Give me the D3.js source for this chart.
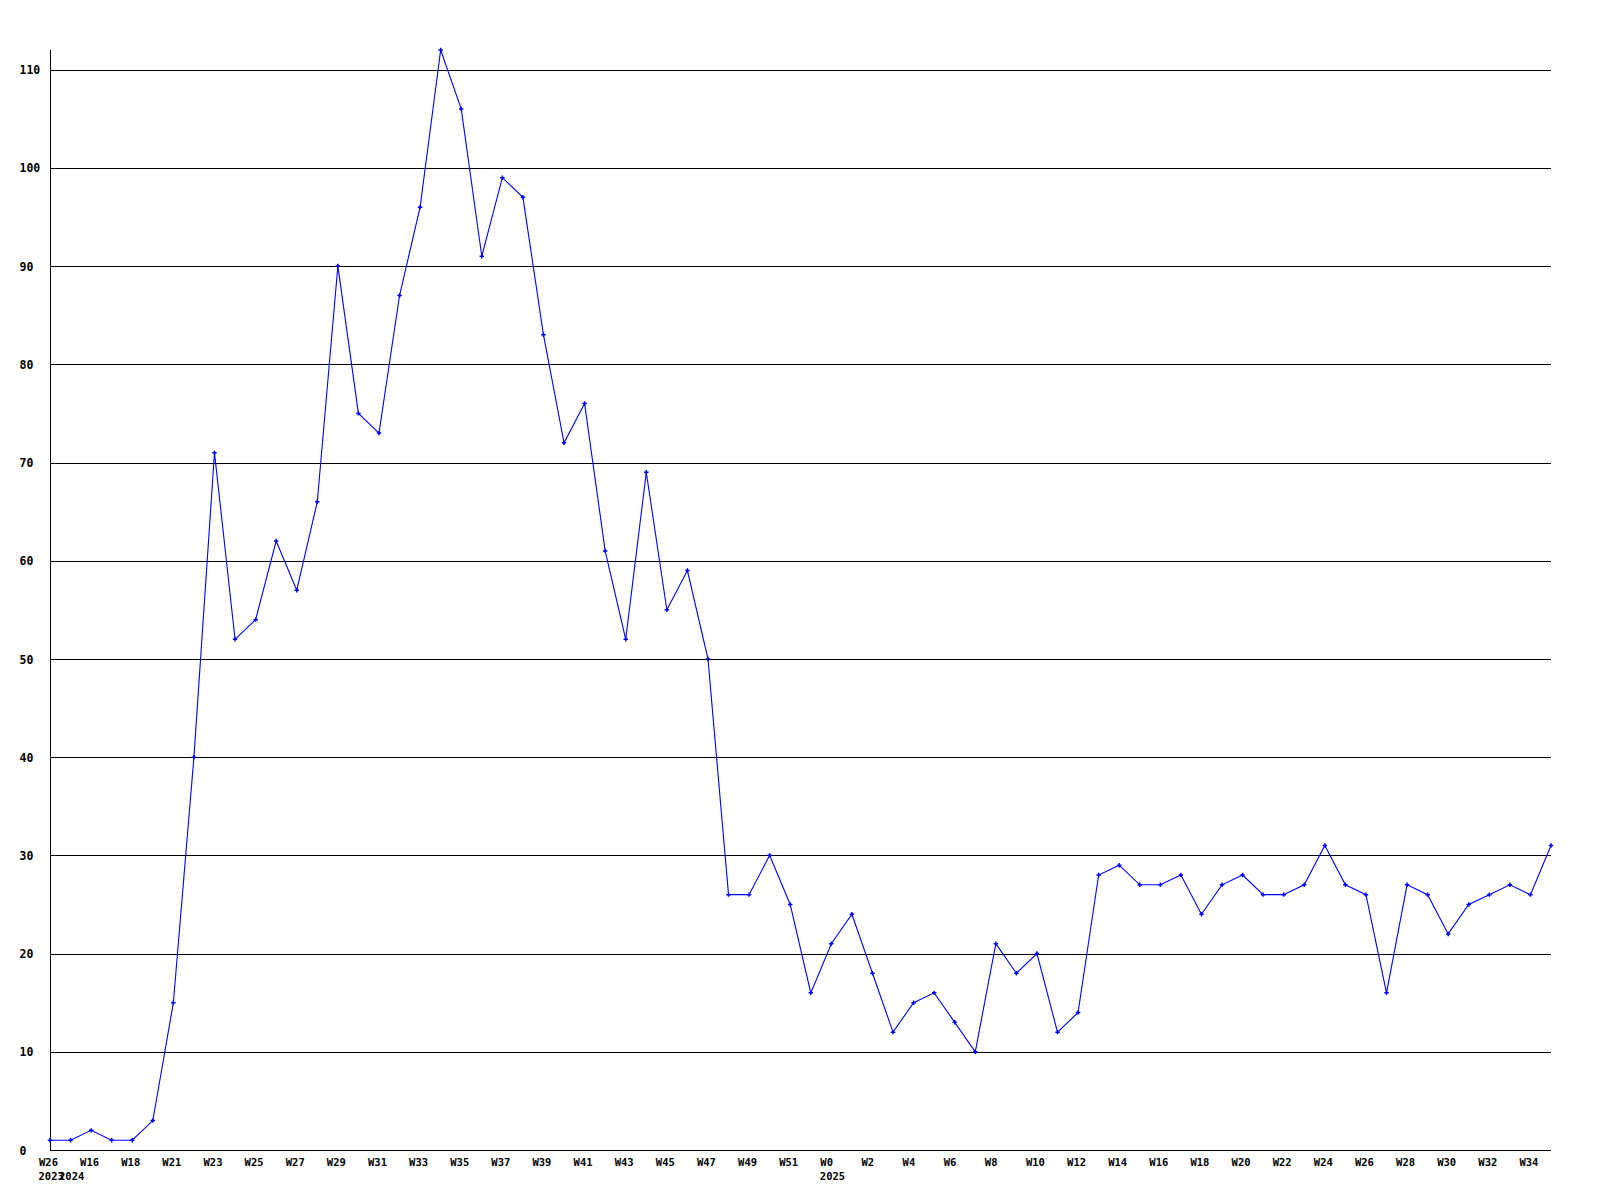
<!DOCTYPE html>
<html>
<head>
<meta charset="utf-8">
<script src="https://cdn.jsdelivr.net/npm/d3@7"></script>
<style>
  html, body { margin: 0; padding: 0; background: #fff; }
  svg { display: block; }
</style>
</head>
<body>
<svg id="chart" width="1600" height="1200"></svg>
<script>
// ---- data ----
const categories = [
  "2023-W26","2024-W15","2024-W16","2024-W17","2024-W18","2024-W20","2024-W21","2024-W22",
  "2024-W23","2024-W24","2024-W25","2024-W26","2024-W27","2024-W28","2024-W29","2024-W30",
  "2024-W31","2024-W32","2024-W33","2024-W34","2024-W35","2024-W36","2024-W37","2024-W38",
  "2024-W39","2024-W40","2024-W41","2024-W42","2024-W43","2024-W44","2024-W45","2024-W46",
  "2024-W47","2024-W48","2024-W49","2024-W50","2024-W51","2024-W52","2025-W0","2025-W1",
  "2025-W2","2025-W3","2025-W4","2025-W5","2025-W6","2025-W7","2025-W8","2025-W9",
  "2025-W10","2025-W11","2025-W12","2025-W13","2025-W14","2025-W15","2025-W16","2025-W17",
  "2025-W18","2025-W19","2025-W20","2025-W21","2025-W22","2025-W23","2025-W24","2025-W25",
  "2025-W26","2025-W27","2025-W28","2025-W29","2025-W30","2025-W31","2025-W32","2025-W33",
  "2025-W34","2025-W35"
];
const values = [
  1,1,2,1,1,3,15,40,71,52,54,62,57,66,90,75,73,87,96,112,106,91,99,97,83,72,76,61,52,69,
  55,59,50,26,26,30,25,16,21,24,18,12,15,16,13,10,21,18,20,12,14,28,29,27,27,28,24,27,28,
  26,26,27,31,27,26,16,27,26,22,25,26,27,26,31
];
const yTicks = [0,10,20,30,40,50,60,70,80,90,100,110];
const yMax = 112;
// year captions shown under the first category of each year
const yearCaptions = [["2023-W26","2023"],["2024-W15","2024"],["2025-W0","2025"]];

// ---- layout ----
const svg = d3.select("#chart");
const plotLeft = 50, plotRight = 1551, plotTop = 50, plotBottom = 1150;

const x = d3.scalePoint().domain(categories).range([plotLeft, plotRight]);
const y = d3.scaleLinear().domain([0, yMax]).range([plotBottom, plotTop]);

const monoFont = "'DejaVu Sans Mono', 'Liberation Mono', monospace";

// gridlines
svg.append("g")
  .selectAll("line")
  .data(yTicks.filter(t => t > 0))
  .join("line")
  .attr("x1", plotLeft).attr("x2", plotRight)
  .attr("y1", d => Math.round(y(d)) + 0.5).attr("y2", d => Math.round(y(d)) + 0.5)
  .attr("stroke", "#000").attr("stroke-width", 1)
  .attr("shape-rendering", "crispEdges");

// y axis
const yAxis = d3.axisLeft(y).tickValues(yTicks).tickSize(0).tickSizeOuter(0).tickFormat(d3.format("d"));
const gy = svg.append("g").attr("transform", `translate(${plotLeft + 0.5},0)`).call(yAxis);
gy.select(".domain").attr("stroke", "#000").attr("shape-rendering", "crispEdges")
  .attr("d", `M0,${plotTop}V${plotBottom}`);
gy.selectAll(".tick text")
  .attr("x", 19 - plotLeft)
  .attr("text-anchor", "start")
  .attr("dy", "0.36em")
  .style("font-family", monoFont)
  .style("font-size", "11.5px")
  .style("font-weight", "bold")
  .attr("fill", "#000");

// x axis
const labeled = categories.filter((c, i) => i % 2 === 0);
const xAxis = d3.axisBottom(x).tickValues(labeled).tickSize(0).tickSizeOuter(0)
  .tickFormat(d => d.split("-")[1]);
const gx = svg.append("g").attr("transform", `translate(0,${plotBottom + 0.5})`).call(xAxis);
gx.select(".domain").attr("stroke", "#000").attr("shape-rendering", "crispEdges")
  .attr("d", `M${plotLeft},0H${plotRight}`);
gx.selectAll(".tick text")
  .attr("x", -11.5)
  .attr("y", 15.5)
  .attr("dy", 0)
  .attr("text-anchor", "start")
  .style("font-family", monoFont)
  .style("font-size", "10.5px")
  .style("font-weight", "bold")
  .attr("fill", "#000");

// year captions
svg.append("g")
  .selectAll("text")
  .data(yearCaptions)
  .join("text")
  .attr("x", d => x(d[0]) - 11.5)
  .attr("y", plotBottom + 30)
  .attr("text-anchor", "start")
  .style("font-family", monoFont)
  .style("font-size", "10.5px")
  .style("font-weight", "bold")
  .attr("fill", "#000")
  .text(d => d[1]);

// line
const pts = categories.map((c, i) => [x(c), y(values[i])]);
svg.append("path")
  .datum(pts)
  .attr("d", d3.line())
  .attr("fill", "none")
  .attr("stroke", "#0000ff")
  .attr("stroke-width", 1.1);

// markers
svg.append("g")
  .selectAll("path")
  .data(pts)
  .join("path")
  .attr("transform", d => `translate(${d[0]},${d[1]})`)
  .attr("d", d3.symbol(d3.symbolCross, 11)())
  .attr("fill", "#0000ff");
</script>
</body>
</html>
